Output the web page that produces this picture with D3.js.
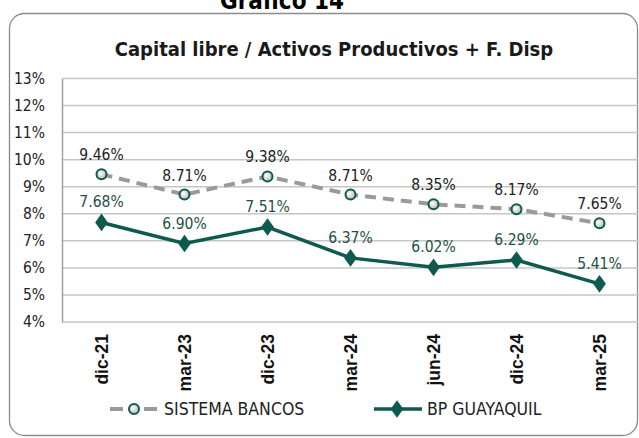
<!DOCTYPE html>
<html>
<head>
  <meta charset="utf-8">
  <script src="https://d3js.org/d3.v7.min.js"></script>
  <style type="text/css">
    body { margin: 0; background: #fff; }
    svg { display: block; }
    text { font-family: "DejaVu Sans Condensed", "DejaVu Sans", sans-serif; }
  </style>
</head>
<body>
<script type="text/javascript">
// data
var categories = ["dic-21", "mar-23", "dic-23", "mar-24", "jun-24", "dic-24", "mar-25"];
var sistema = [9.46, 8.71, 9.38, 8.71, 8.35, 8.17, 7.65];
var guayaquil = [7.68, 6.90, 7.51, 6.37, 6.02, 6.29, 5.41];
var yTicks = [4, 5, 6, 7, 8, 9, 10, 11, 12, 13];

var width = 639, height = 438;
var green = "#0e5a4c", grey = "#9a9a9a";

var svg = d3.select("body").append("svg")
  .attr("width", width)
  .attr("height", height);

var defs = svg.append("defs");
var grad = defs.append("radialGradient").attr("id", "dot")
  .attr("cx", "40%").attr("cy", "40%").attr("r", "60%");
grad.append("stop").attr("offset", "0%").attr("stop-color", "#ffffff");
grad.append("stop").attr("offset", "100%").attr("stop-color", "#b8bcbb");

// outer frame
svg.append("rect")
  .attr("x", 9.5).attr("y", 13.5)
  .attr("width", 628).attr("height", 422)
  .attr("rx", 15)
  .attr("fill", "none")
  .attr("stroke", "#8c8c8c")
  .attr("stroke-width", 1.3);

// header above frame (cut off at top in the original too)
svg.append("text")
  .attr("x", 282).attr("y", 9)
  .attr("text-anchor", "middle")
  .attr("font-weight", "bold")
  .style("font-size", "24px")
  .text("Gráfico 14");

svg.append("text")
  .attr("x", 334).attr("y", 56)
  .attr("text-anchor", "middle")
  .attr("font-weight", "bold")
  .style("font-size", "20px")
  .attr("fill", "#1a1a1a")
  .text("Capital libre / Activos Productivos + F. Disp");

var x = d3.scaleBand().domain(categories).range([60, 641]);
var y = d3.scaleLinear().domain([4, 13]).range([322, 78.5]);

// gridlines
svg.append("g").selectAll("line")
  .data(yTicks)
  .enter().append("line")
  .attr("x1", 62).attr("x2", 639)
  .attr("y1", function(d) { return y(d); })
  .attr("y2", function(d) { return y(d); })
  .attr("stroke", "#c6c6c6")
  .attr("stroke-width", 1.5);

// left axis
var yAxis = d3.axisLeft(y).tickValues(yTicks)
  .tickSize(0).tickPadding(17)
  .tickFormat(function(d) { return d + "%"; });
var ya = svg.append("g").attr("transform", "translate(62,0)").call(yAxis);
ya.select(".domain").attr("stroke", "#a0a0a0").attr("stroke-width", 1.5);
ya.selectAll("text")
  .style("font-size", "15.5px")
  .attr("fill", "#222")
  .style("font-family", "'DejaVu Sans Condensed', sans-serif");

// bottom category labels
var xAxis = d3.axisBottom(x).tickSize(0).tickPadding(0);
var xa = svg.append("g").attr("transform", "translate(0,322)").call(xAxis);
xa.select(".domain").remove();
xa.selectAll("text")
  .attr("transform", "rotate(-90)")
  .attr("x", -12).attr("y", 0).attr("dy", "0.35em")
  .style("text-anchor", "end")
  .style("font-size", "17.5px")
  .style("font-weight", "bold")
  .style("font-family", "'Liberation Sans', Arial, sans-serif")
  .attr("fill", "#111");

var cx = function(d, i) { return x(categories[i]) + x.bandwidth() / 2; };

var line = d3.line()
  .x(function(d, i) { return cx(d, i); })
  .y(function(d) { return y(d); });

// sistema bancos, dashed grey
svg.append("path")
  .datum(sistema)
  .attr("d", line)
  .attr("fill", "none")
  .attr("stroke", grey)
  .attr("stroke-width", 4)
  .attr("stroke-dasharray", "11,7");

// bp guayaquil, solid green
svg.append("path")
  .datum(guayaquil)
  .attr("d", line)
  .attr("fill", "none")
  .attr("stroke", green)
  .attr("stroke-width", 3.5);

svg.append("g").selectAll("circle")
  .data(sistema)
  .enter().append("circle")
  .attr("cx", cx)
  .attr("cy", function(d) { return y(d); })
  .attr("r", 5)
  .attr("fill", "url(#dot)")
  .attr("stroke", green)
  .attr("stroke-width", 2);

var diamond = d3.symbol().type(d3.symbolDiamond).size(90);
svg.append("g").selectAll("path")
  .data(guayaquil)
  .enter().append("path")
  .attr("d", diamond)
  .attr("transform", function(d, i) {
    return "translate(" + cx(d, i) + "," + y(d) + ") scale(1.25,1)";
  })
  .attr("fill", green);

// value labels
svg.append("g").selectAll("text")
  .data(sistema)
  .enter().append("text")
  .attr("x", cx)
  .attr("y", function(d) { return y(d) - 14; })
  .attr("text-anchor", "middle")
  .style("font-size", "15.5px")
  .attr("fill", "#222")
  .text(function(d) { return d.toFixed(2) + "%"; });

svg.append("g").selectAll("text")
  .data(guayaquil)
  .enter().append("text")
  .attr("x", cx)
  .attr("y", function(d) { return y(d) - 15; })
  .attr("text-anchor", "middle")
  .style("font-size", "15.5px")
  .attr("fill", "#1f4f47")
  .text(function(d) { return d.toFixed(2) + "%"; });

// legend
var lg = svg.append("g").attr("transform", "translate(0,409)");
lg.append("line")
  .attr("x1", 110).attr("x2", 157).attr("y1", 0).attr("y2", 0)
  .attr("stroke", grey).attr("stroke-width", 4)
  .attr("stroke-dasharray", "13,21");
lg.append("circle")
  .attr("cx", 134).attr("cy", 0).attr("r", 5)
  .attr("fill", "url(#dot)")
  .attr("stroke", green).attr("stroke-width", 2);
lg.append("text")
  .attr("x", 164).attr("y", 0).attr("dy", "0.35em")
  .style("font-size", "17.5px")
  .attr("fill", "#222")
  .text("SISTEMA BANCOS");

lg.append("line")
  .attr("x1", 374).attr("x2", 422).attr("y1", 0).attr("y2", 0)
  .attr("stroke", green).attr("stroke-width", 3.5);
lg.append("path")
  .attr("d", diamond)
  .attr("transform", "translate(397,0) scale(1.25,1)")
  .attr("fill", green);
lg.append("text")
  .attr("x", 427).attr("y", 0).attr("dy", "0.35em")
  .style("font-size", "17.5px")
  .attr("fill", "#222")
  .text("BP GUAYAQUIL");
</script>
</body>
</html>
